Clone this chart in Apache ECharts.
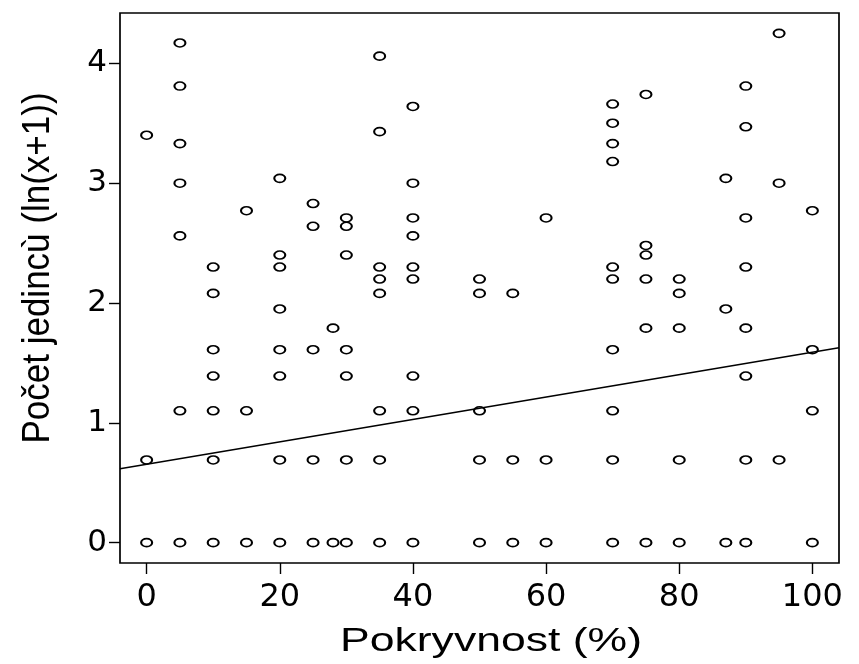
<!DOCTYPE html>
<html>
<head>
<meta charset="utf-8">
<script src="https://cdn.jsdelivr.net/npm/echarts@6/dist/echarts.min.js"></script>
<style>html,body{margin:0;padding:0;background:#fff}#c{width:859px;height:664px}</style>
</head>
<body>
<div id="c"></div>
<script>
// Data
var coverage = [
  0,0,0,
  5,5,5,5,5,5,5,
  10,10,10,10,10,10,10,
  15,15,15,
  20,20,20,20,20,20,20,20,
  25,25,25,25,25,
  28,28,
  30,30,30,30,30,30,30,
  35,35,35,35,35,35,35,35,
  40,40,40,40,40,40,40,40,40,
  50,50,50,50,50,
  55,55,55,
  60,60,60,
  70,70,70,70,70,70,70,70,70,70,
  75,75,75,75,75,75,
  80,80,80,80,80,
  87,87,87,
  90,90,90,90,90,90,90,90,
  95,95,95,
  100,100,100,100
];
var lnCount = [
  3.40,0.69,0,
  4.17,3.81,3.33,3.00,2.56,1.10,0,
  2.30,2.08,1.61,1.39,1.10,0.69,0,
  2.77,1.10,0,
  3.04,2.40,2.30,1.95,1.61,1.39,0.69,0,
  2.83,2.64,1.61,0.69,0,
  1.79,0,
  2.71,2.64,2.40,1.61,1.39,0.69,0,
  4.06,3.43,2.30,2.20,2.08,1.10,0.69,0,
  3.64,3.00,2.71,2.56,2.30,2.20,1.39,1.10,0,
  2.20,2.08,1.10,0.69,0,
  2.08,0.69,0,
  2.71,0.69,0,
  3.66,3.50,3.33,3.18,2.30,2.20,1.61,1.10,0.69,0,
  3.74,2.48,2.40,2.20,1.79,0,
  2.20,2.08,1.79,0.69,0,
  3.04,1.95,0,
  3.81,3.47,2.71,2.30,1.79,1.39,0.69,0,
  4.25,3.00,0.69,
  2.77,1.61,1.10,0
];
// Fitted line endpoints (at the plot edges)
var fitX = [-4, 104];
var fitY = [0.617, 1.626];
var xTicks = [0, 20, 40, 60, 80, 100];
var yTicks = [0, 1, 2, 3, 4];
var xTitle = 'Pokryvnost (%)';
var yTitle = 'Počet jedincù (ln(x+1))';

var pts = coverage.map(function(x, i){ return [x, lnCount[i]]; });
var linePts = fitX.map(function(x, i){ return [x, fitY[i]]; });

var tickFont = 'DejaVu Sans, sans-serif';
var chart = echarts.init(document.getElementById('c'), null, {renderer: 'canvas'});
chart.setOption({
  animation: false,
  backgroundColor: '#fff',
  grid: {left: 120, right: 20, top: 13, bottom: 101, show: true, borderColor: '#000', borderWidth: 1.7, backgroundColor: 'transparent'},
  xAxis: {
    type: 'value', min: -4, max: 104,
    axisLine: {show: false, onZero: false},
    splitLine: {show: false},
    axisTick: {show: true, length: 11, lineStyle: {color: '#000', width: 1.4}, customValues: xTicks},
    axisLabel: {color: '#000', fontSize: 32, fontFamily: tickFont, margin: 19, customValues: xTicks}
  },
  yAxis: {
    type: 'value', min: -0.17, max: 4.42,
    axisLine: {show: false, onZero: false},
    splitLine: {show: false},
    axisTick: {show: true, length: 11, lineStyle: {color: '#000', width: 1.4}, customValues: yTicks},
    axisLabel: {color: '#000', fontSize: 31, fontFamily: tickFont, margin: 13, customValues: yTicks}
  },
  graphic: [
    {type: 'text', x: 491, y: 642, scaleX: 1.31, silent: true,
     style: {text: xTitle, font: '34px Liberation Sans, Arial, sans-serif', fill: '#000', textAlign: 'center', textVerticalAlign: 'middle'}},
    {type: 'text', x: 38, y: 268, rotation: Math.PI / 2, scaleY: 1.12, silent: true,
     style: {text: yTitle, font: '35px Liberation Sans, Arial, sans-serif', fill: '#000', textAlign: 'center', textVerticalAlign: 'middle'}}
  ],
  series: [
    {
      type: 'scatter', data: pts,
      symbol: 'circle', symbolSize: [11, 8],
      itemStyle: {color: 'transparent', borderColor: '#000', borderWidth: 1.8, opacity: 1}
    },
    {
      type: 'line', data: linePts, showSymbol: false, symbol: 'none',
      lineStyle: {color: '#000', width: 1.5}, clip: true
    }
  ]
});
</script>
</body>
</html>
